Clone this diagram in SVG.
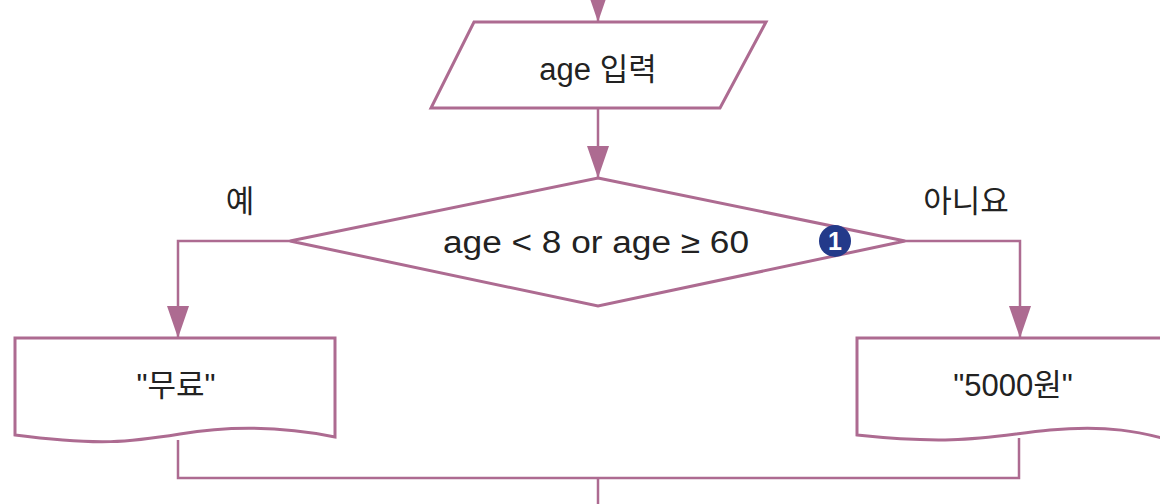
<svg xmlns="http://www.w3.org/2000/svg" width="1160" height="504" viewBox="0 0 1160 504">
<style>
.s{fill:#fff;stroke:#ad6b91;stroke-width:3;stroke-linejoin:miter}
.c{fill:none;stroke:#ad6b91;stroke-width:2.5}
.t{font-family:"Liberation Sans","Noto Sans CJK KR",sans-serif;font-size:31px;fill:#222;text-anchor:middle}
</style>
<defs>
<marker id="ah" markerUnits="userSpaceOnUse" markerWidth="34" markerHeight="24" refX="32" refY="11" orient="auto">
<path d="M0,0 L32,11 L0,22 z" fill="#ad6b91"/>
</marker>
</defs>
<rect width="1160" height="504" fill="#fff"/>
<g id="connectors">
<path class="c" d="M598,0 L598,22" marker-end="url(#ah)"/>
<path class="c" d="M598,108 L598,178" marker-end="url(#ah)"/>
<path class="c" d="M290,241 L178,241 L178,338" marker-end="url(#ah)"/>
<path class="c" d="M905,241 L1020,241 L1020,338" marker-end="url(#ah)"/>
<path class="c" d="M178,440 L178,478 L1019,478 L1019,438"/>
<path class="c" d="M598,478 L598,504"/>
<text class="t" x="240" y="212">예</text>
<text class="t" x="966" y="212">아니요</text>
</g>
<g id="input">
<path class="s" d="M474,22 L766,22 L720,108 L431,108 z"/>
<text class="t" x="598" y="80">age 입력</text>
</g>
<g id="decision">
<path class="s" d="M598,178 L905,241 L598,306 L290,241 z"/>
<text class="t" x="596" y="253" textLength="306" lengthAdjust="spacingAndGlyphs">age &lt; 8 or age ≥ 60</text>
<circle cx="835" cy="241" r="16" fill="#233a8a"/>
<text x="835" y="250" font-family="Liberation Sans, sans-serif" font-size="25" font-weight="bold" fill="#fff" text-anchor="middle">1</text>
</g>
<g id="free">
<path class="s" d="M15,338 L335,338 L335,437 C290,428 240,424 180,434 C130,442 100,446 15,435 z"/>
<text class="t" x="176" y="396">"무료"</text>
</g>
<g id="paid">
<path class="s" d="M857,338 L1170,338 L1170,440 C1140,432 1110,425 1050,430 C990,436 960,446 857,435 z"/>
<text class="t" x="1013" y="396">"5000원"</text>
</g>
</svg>
